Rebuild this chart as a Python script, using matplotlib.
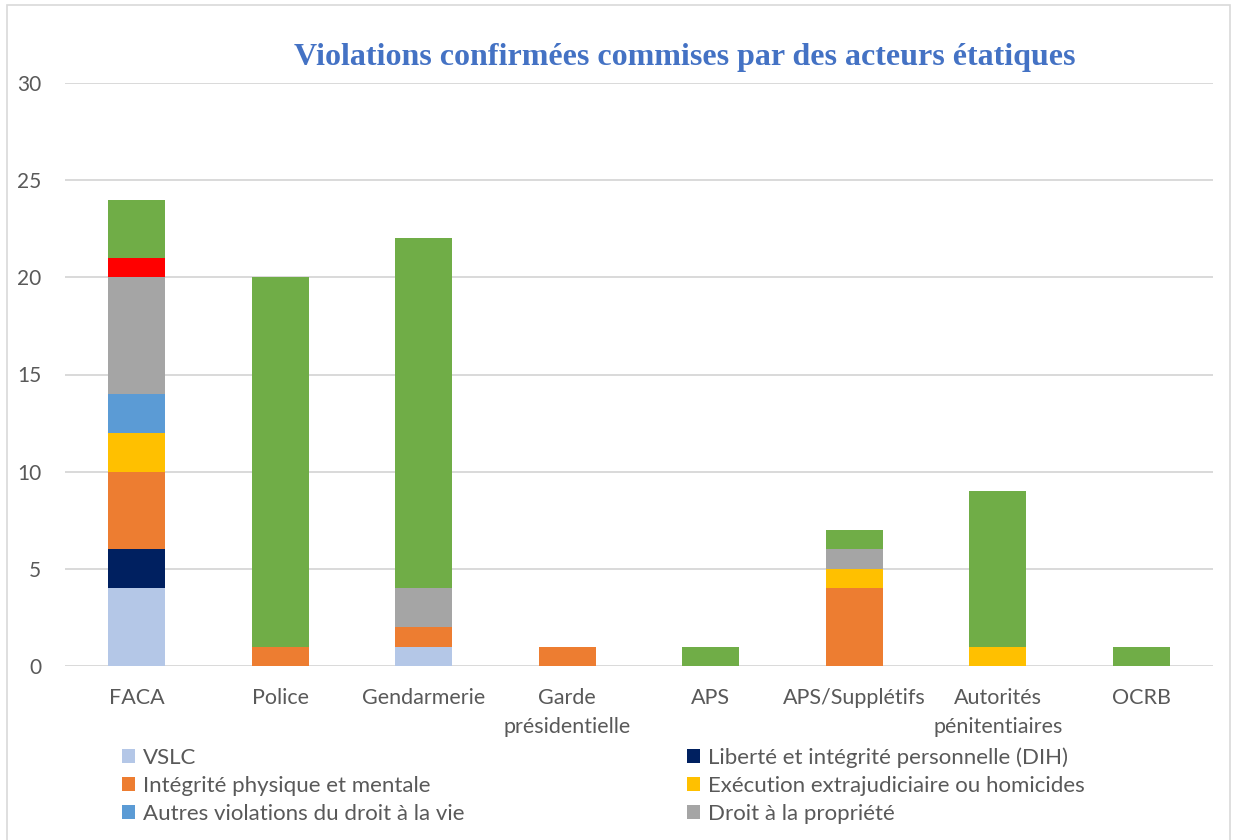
import matplotlib
matplotlib.use("Agg")
import matplotlib.pyplot as plt
from matplotlib.patches import Rectangle, Patch
import numpy as np

categories = ["FACA", "Police", "Gendarmerie", "Garde\nprésidentielle", "APS",
              "APS/Supplétifs", "Autorités\npénitentiaires", "OCRB"]

series_names = ["VSLC", "Liberté et intégrité personnelle (DIH)",
                "Intégrité physique et mentale", "Exécution extrajudiciaire ou homicides",
                "Autres violations du droit à la vie", "Droit à la propriété",
                "Atteintes à la liberté", "Droit à la liberté et à la sécurité de la personne"]

vslc        = [4, 0, 1, 0, 0, 0, 0, 0]
dih         = [2, 0, 0, 0, 0, 0, 0, 0]
integrite   = [4, 1, 1, 1, 0, 4, 0, 0]
execution   = [2, 0, 0, 0, 0, 1, 1, 0]
autres_vie  = [2, 0, 0, 0, 0, 0, 0, 0]
propriete   = [6, 0, 2, 0, 0, 1, 0, 0]
rouge       = [1, 0, 0, 0, 0, 0, 0, 0]
liberte     = [3, 19, 18, 0, 1, 1, 8, 1]

series = [vslc, dih, integrite, execution, autres_vie, propriete, rouge, liberte]
colors = ["#B4C7E7", "#002060", "#ED7D31", "#FFC000", "#5B9BD5", "#A5A5A5",
          "#FF0000", "#70AD47"]

plt.rcParams['font.family'] = ['Lato', 'DejaVu Sans']

fig = plt.figure(figsize=(12.35, 8.4), dpi=100)
ax = fig.add_axes([65 / 1235, 1 - 666 / 840, (1213 - 65) / 1235, (666 - 83) / 840])

x = np.arange(len(categories))
bottom = np.zeros(len(categories))
for vals, col, name in zip(series, colors, series_names):
    v = np.array(vals, dtype=float)
    ax.bar(x, v, 0.40, bottom=bottom, color=col, label=name, zorder=3)
    bottom += v

ax.set_xlim(-0.5, len(categories) - 0.5)
ax.set_ylim(0, 30)
ax.set_yticks([0, 5, 10, 15, 20, 25, 30])
ax.grid(axis='y', color='#D9D9D9', linewidth=1.4, zorder=0)
for s in ax.spines.values():
    s.set_visible(False)
ax.tick_params(axis='both', length=0, labelsize=15, labelcolor='#595959')
ax.tick_params(axis='x', pad=16, labelsize=15.5)
ax.tick_params(axis='y', pad=17)
ax.set_xticks(x)
ax.set_xticklabels(categories, linespacing=1.55)

fig.text(685 / 1235, 1 - 65 / 840, "Violations confirmées commises par des acteurs étatiques",
         ha='center', va='baseline', fontsize=23, fontweight='bold',
         color='#4472C4', family='Liberation Serif')

order = [0, 2, 4, 1, 3, 5]
handles = [Patch(facecolor=colors[i], edgecolor='none') for i in order]
labels = [series_names[i] for i in order]
fig.legend(handles, labels, ncol=2, loc='upper left',
           bbox_to_anchor=(122 / 1235, 1 - 747 / 840),
           frameon=False, fontsize=16, labelcolor='#595959', handlelength=0.6,
           handleheight=0.6, handletextpad=0.35, columnspacing=10.0, labelspacing=0.37,
           borderpad=0, borderaxespad=0)

fig.add_artist(Rectangle((7 / 1235, -0.01), 1223 / 1235, 1.0 - 5 / 840 + 0.01,
                         transform=fig.transFigure, fill=False,
                         edgecolor='#D9D9D9', linewidth=1.2))

fig.savefig("out.png", dpi=100)
